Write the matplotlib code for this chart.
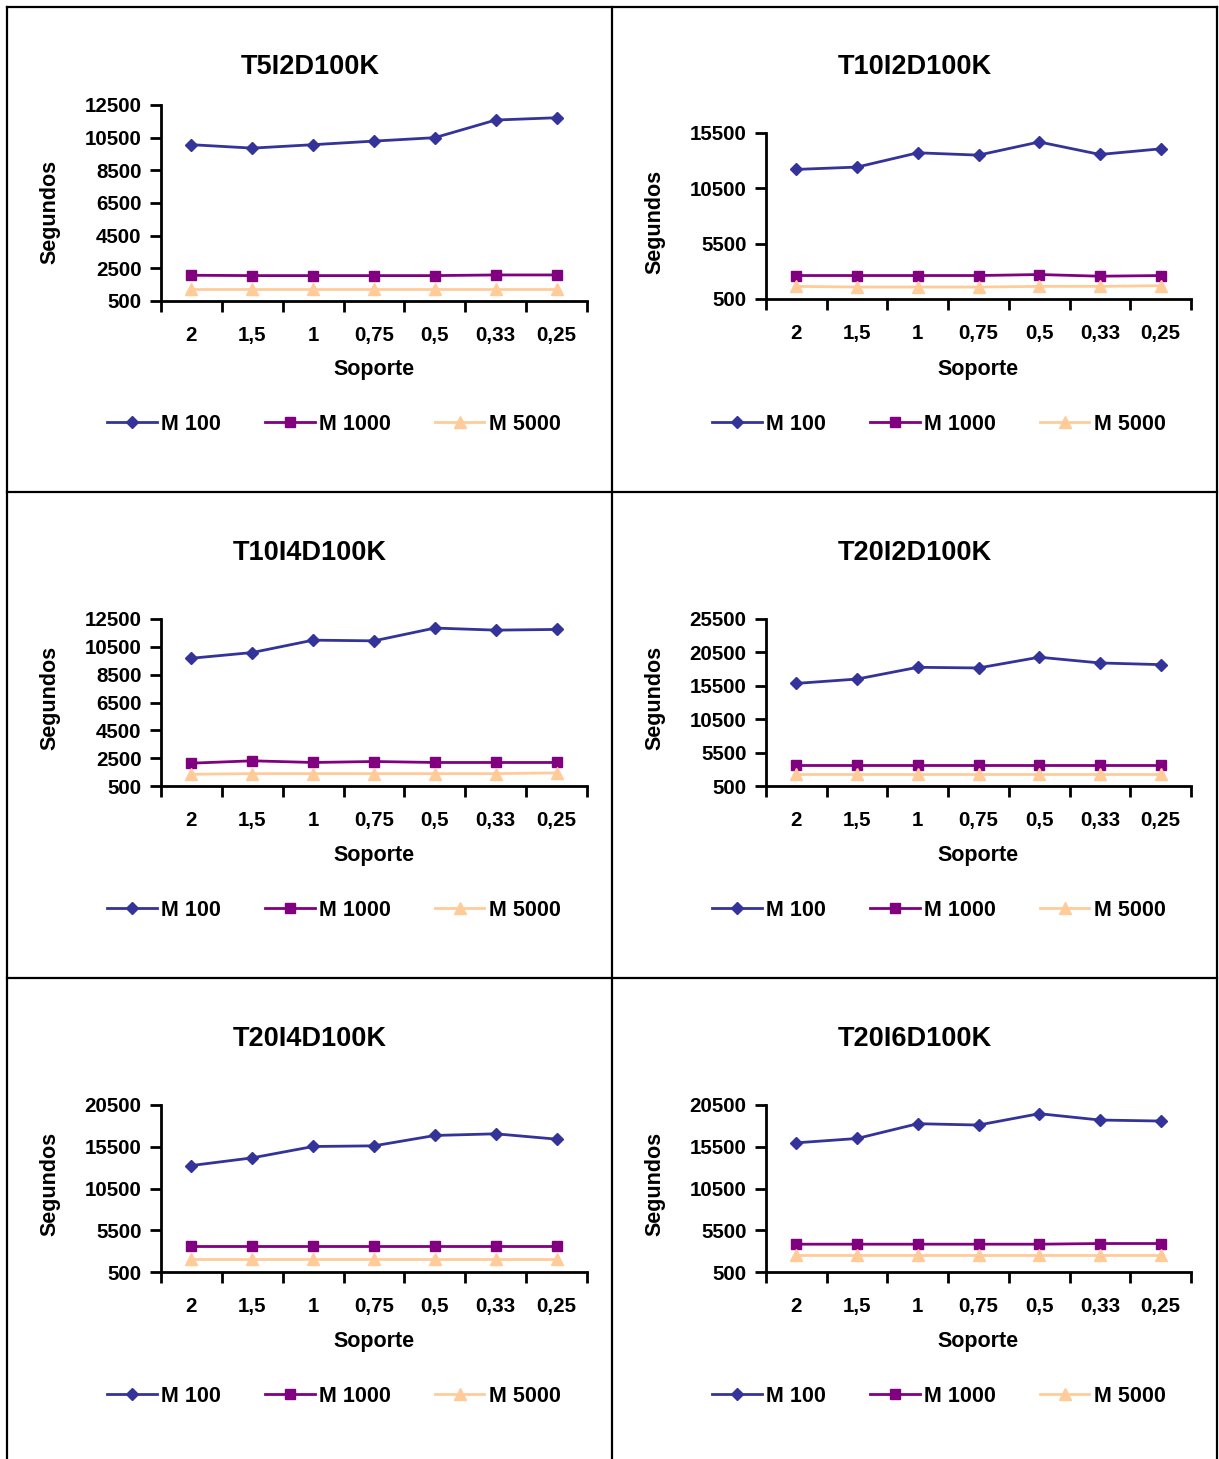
import matplotlib
matplotlib.use("Agg")
import matplotlib.pyplot as plt
from matplotlib.lines import Line2D

plt.rcParams["font.family"] = ["Liberation Sans", "DejaVu Sans"]
plt.rcParams["font.weight"] = "bold"

W, H = 1219, 1459

soporte = ["2", "1,5", "1", "0,75", "0,5", "0,33", "0,25"]
series_names = ["M 100", "M 1000", "M 5000"]

titles = ["T5I2D100K", "T10I2D100K", "T10I4D100K", "T20I2D100K", "T20I4D100K", "T20I6D100K"]

m100 = [
    [10070, 9860, 10070, 10290, 10500, 11580, 11720],
    [12210, 12420, 13710, 13500, 14690, 13560, 14070],
    [9680, 10090, 10980, 10930, 11850, 11700, 11750],
    [15860, 16510, 18270, 18170, 19780, 18920, 18670],
    [13250, 14170, 15530, 15610, 16850, 17050, 16410],
    [15970, 16490, 18260, 18100, 19460, 18700, 18580],
]
m1000 = [
    [2075, 2055, 2055, 2055, 2055, 2095, 2095],
    [2620, 2620, 2620, 2620, 2710, 2560, 2620],
    [2140, 2310, 2190, 2260, 2190, 2190, 2190],
    [3710, 3710, 3710, 3710, 3710, 3710, 3710],
    [3590, 3590, 3590, 3590, 3590, 3590, 3590],
    [3830, 3830, 3830, 3830, 3830, 3910, 3910],
]
m5000 = [
    [1260, 1260, 1260, 1260, 1260, 1260, 1260],
    [1640, 1580, 1580, 1580, 1640, 1640, 1700],
    [1340, 1390, 1390, 1390, 1390, 1390, 1440],
    [2260, 2260, 2260, 2260, 2260, 2260, 2260],
    [2060, 2060, 2060, 2060, 2060, 2060, 2060],
    [2500, 2500, 2500, 2500, 2500, 2500, 2500],
]
yticks = [
    [500, 2500, 4500, 6500, 8500, 10500, 12500],
    [500, 5500, 10500, 15500],
    [500, 2500, 4500, 6500, 8500, 10500, 12500],
    [500, 5500, 10500, 15500, 20500, 25500],
    [500, 5500, 10500, 15500, 20500],
    [500, 5500, 10500, 15500, 20500],
]

colors = ["#333399", "#800080", "#FFCC99"]
markers = ["D", "s", "^"]
msizes = [6, 7, 8]

# axes boxes in pixels: left, top, right, bottom
boxes = [
    (161, 105, 587, 301), (766, 133, 1191, 299),
    (161, 619, 587, 786), (766, 619, 1191, 786),
    (161, 1105, 587, 1272), (766, 1105, 1191, 1272),
]
row_off = [0, 0, 486, 486, 972, 972]

fig = plt.figure(figsize=(W / 100, H / 100), dpi=100)

for i in range(6):
    l, t, r, b = boxes[i]
    ax = fig.add_axes([l / W, 1 - b / H, (r - l) / W, (b - t) / H])
    x = list(range(len(soporte)))
    for vals, c, mk, ms, name in zip([m100[i], m1000[i], m5000[i]], colors, markers, msizes, series_names):
        ax.plot(x, vals, color=c, marker=mk, markersize=ms, lw=2, label=name, clip_on=False)
    ax.set_xlim(-0.5, 6.5)
    ax.set_ylim(yticks[i][0], yticks[i][-1])
    ax.set_yticks(yticks[i])
    ax.set_yticklabels([str(v) for v in yticks[i]], fontsize=14.8, fontweight="bold")
    ax.set_xticks(x)
    ax.set_xticklabels(soporte, fontsize=14.8, fontweight="bold")
    ax.set_xticks([v - 0.5 for v in range(8)], minor=True)
    ax.tick_params(axis="x", which="major", length=0, pad=18)
    ax.tick_params(axis="x", which="minor", length=8, width=2, direction="out")
    ax.tick_params(axis="y", length=8, width=2, pad=6)
    for s in ["top", "right"]:
        ax.spines[s].set_visible(False)
    for s in ["left", "bottom"]:
        ax.spines[s].set_linewidth(2)

    cx = (l + r) / 2
    col_x = 310 if i % 2 == 0 else 915
    ro = row_off[i]
    fig.text(col_x / W, 1 - (67 + ro) / H, titles[i], fontsize=19.5, fontweight="bold",
             ha="center", va="center")
    fig.text(cx / W, 1 - (370 + ro) / H, "Soporte", fontsize=15.5, fontweight="bold",
             ha="center", va="center")
    lx = 50 if i % 2 == 0 else 655
    ly = (212 + ro) if i != 1 else 222
    fig.text(lx / W, 1 - ly / H, "Segundos", fontsize=15.5, fontweight="bold",
             rotation=90, ha="center", va="center")
    legx = 334 if i % 2 == 0 else 939
    ax.legend(loc="center", bbox_to_anchor=(legx / W, 1 - (424 + ro) / H),
              bbox_transform=fig.transFigure, ncol=3, frameon=False,
              prop={"size": 15.5, "weight": "bold"}, handlelength=2.3,
              handletextpad=0.2, columnspacing=2.05)

# cell borders
def line(x0, y0, x1, y1):
    fig.add_artist(Line2D([x0 / W, x1 / W], [1 - y0 / H, 1 - y1 / H], color="black", lw=1.6))

line(7, 7, 1217, 7)
line(7, 7, 7, H)
line(1217, 7, 1217, H)
line(612, 7, 612, H)
line(7, 492, 1217, 492)
line(7, 978, 1217, 978)

fig.savefig("out.png", dpi=100)
